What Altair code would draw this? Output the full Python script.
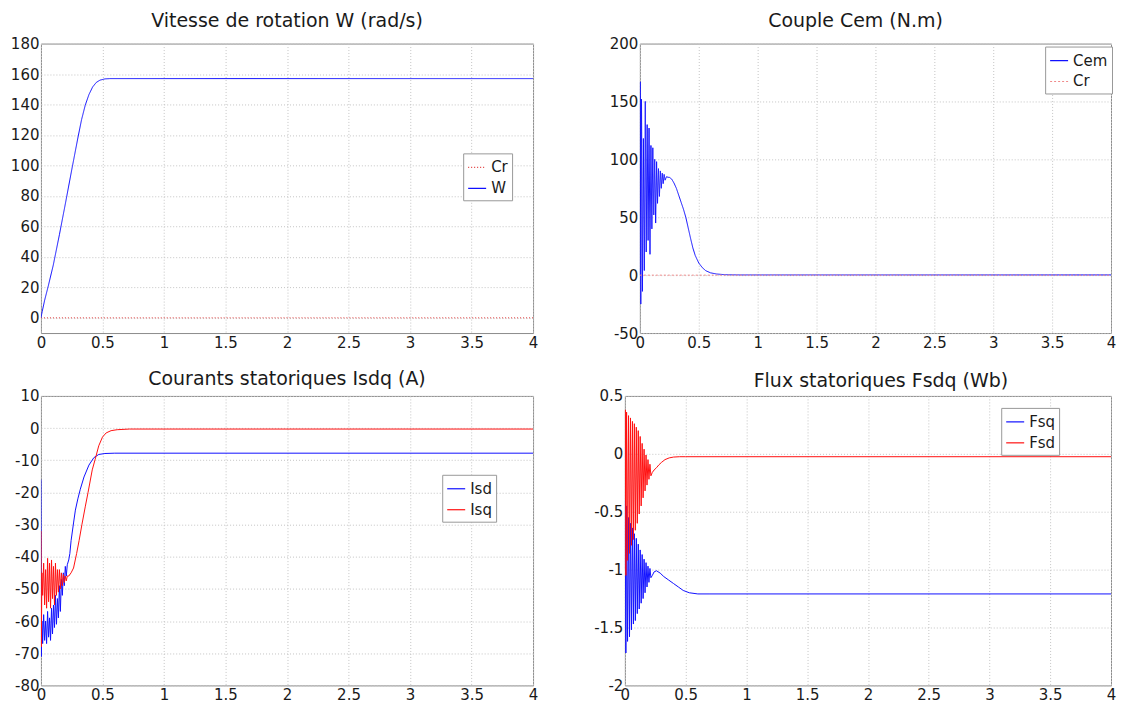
import altair as alt
import pandas as pd

FONT = "DejaVu Sans"

# ---------------- data ----------------
# common time stamps (s) of the oscillating start-up transients
t_osc = [0.014, 0.022, 0.030, 0.038, 0.046, 0.054, 0.062, 0.070, 0.078, 0.086,
         0.094, 0.102, 0.110, 0.118, 0.126, 0.134, 0.142, 0.150, 0.158, 0.166,
         0.174, 0.182, 0.190, 0.198, 0.206, 0.214]
t_head = [0.000, 0.003, 0.008]

# Panel 1 : speed W (rad/s) and load torque Cr
w_t = [0, 0.01, 0.03, 0.06, 0.1, 0.15, 0.2, 0.25, 0.3, 0.33, 0.36,
       0.39, 0.42, 0.45, 0.48, 0.52, 0.56, 0.62, 0.7, 4.0]
w_v = [0, 4, 11.5, 21, 34.5, 54.5, 75.5, 97, 118, 130, 139.5,
       146.5, 151.5, 154.5, 156, 156.8, 157, 157, 157, 157]
cr_t = [0.0, 4.0]
cr_v = [0.0, 0.0]

# Panel 2 : electromagnetic torque Cem (N.m)
cem_head_v = [0, 167, -25]
cem_osc_v = [152, -14, 118, 4, 150, 20, 130, 30, 127, 18, 112, 40, 110,
             52, 100, 45, 98, 62, 92, 68, 90, 75, 88, 79, 87, 82]
cem_tail_t = [0.226, 0.24, 0.25, 0.27, 0.29, 0.31, 0.33, 0.35, 0.37, 0.39, 0.41,
              0.43, 0.45, 0.47, 0.50, 0.53, 0.56, 0.60, 0.65, 0.72, 0.85, 4.0]
cem_tail_v = [85, 84.5, 84.5, 83, 79.5, 75, 69, 63, 57, 50, 41,
              32, 23.5, 17, 10.5, 6.5, 3.8, 2, 1, 0.4, 0.2, 0.2]

# Panel 3 : stator currents Isd / Isq (A)
isd_head_v = [-16, -71, -60]
isd_osc_v = [-67, -58, -66, -60, -67, -57, -65, -59, -66, -56, -64, -55, -62,
             -52, -61, -53, -59, -49, -57, -47, -52, -45, -49, -43, -46, -42.5]
isd_tail_t = [0.226, 0.235, 0.245, 0.265, 0.28, 0.30, 0.32, 0.35, 0.39, 0.43,
              0.47, 0.52, 0.60, 4.0]
isd_tail_v = [-41, -39, -35, -29.5, -25.5, -22, -19, -15.2, -11.5, -9.2,
              -8.2, -7.9, -7.8, -7.8]
isq_head_v = [-32, -68, -45]
isq_osc_v = [-52, -42, -55, -44, -56, -40.5, -54, -42, -56, -41, -53, -43, -55,
             -42, -52, -44, -51, -44, -50, -45, -49, -45.5, -48, -46, -47.5, -46]
isq_tail_t = [0.226, 0.245, 0.265, 0.29, 0.31, 0.333, 0.36, 0.383, 0.417, 0.44,
              0.47, 0.50, 0.53, 0.57, 0.62, 0.72, 4.0]
isq_tail_v = [-46, -45, -43.5, -39, -35, -30, -24.5, -20, -13, -9.8,
              -5.5, -2.8, -1.5, -0.8, -0.5, -0.3, -0.3]

# Panel 4 : stator fluxes Fsq / Fsd (Wb)
fsq_head_v = [-1.0, -0.4, -1.72]
fsq_osc_v = [-0.45, -1.62, -0.55, -1.58, -0.6, -1.52, -0.64, -1.47, -0.69, -1.44,
             -0.73, -1.38, -0.78, -1.34, -0.83, -1.29, -0.87, -1.25, -0.91, -1.2,
             -0.94, -1.15, -0.97, -1.11, -0.99, -1.07]
fsq_tail_t = [0.226, 0.24, 0.26, 0.29, 0.32, 0.36, 0.40, 0.44, 0.48, 0.53, 0.60, 0.70, 4.0]
fsq_tail_v = [-1.05, -1.02, -1.01, -1.03, -1.06, -1.09, -1.12, -1.15, -1.18, -1.2,
              -1.21, -1.21, -1.21]
fsd_head_v = [-0.4, 0.38, -1.05]
fsd_osc_v = [0.36, -0.92, 0.33, -0.86, 0.31, -0.79, 0.28, -0.74, 0.26, -0.66,
             0.23, -0.6, 0.2, -0.52, 0.15, -0.45, 0.09, -0.38, 0.04, -0.32,
             -0.01, -0.27, -0.05, -0.22, -0.09, -0.19]
fsd_tail_t = [0.226, 0.24, 0.26, 0.28, 0.30, 0.33, 0.365, 0.40, 0.45, 0.50, 4.0]
fsd_tail_v = [-0.16, -0.14, -0.12, -0.095, -0.075, -0.05, -0.035, -0.028,
              -0.025, -0.025, -0.025]

x_ticks = [0, 0.5, 1, 1.5, 2, 2.5, 3, 3.5, 4]


def frame(t, v, name):
    return pd.DataFrame({"t": t, "v": v, "s": name})


def osc_frame(head_v, osc_v, tail_t, tail_v, name):
    return frame(t_head + t_osc + tail_t, head_v + osc_v + tail_v, name)


def panel(frames, domain, colors, ydom, yticks, title, tdx, toff, lx, ly,
          w, h, dashes=None):
    leg = alt.Legend(title=None, orient="none", legendX=lx, legendY=ly)
    color = alt.Color("s:N", scale=alt.Scale(domain=domain, range=colors), legend=leg)
    enc = dict(
        x=alt.X("t:Q", scale=alt.Scale(domain=[0, 4], nice=False, zero=False),
                axis=alt.Axis(values=x_ticks, labelExpr="toString(datum.value)",
                              title=None, labelFlush=False)),
        y=alt.Y("v:Q", scale=alt.Scale(domain=ydom, nice=False, zero=False),
                axis=alt.Axis(values=yticks, labelExpr="toString(datum.value)",
                              title=None)),
        color=color,
    )
    if dashes is not None:
        enc["strokeDash"] = alt.StrokeDash(
            "s:N", scale=alt.Scale(domain=domain, range=dashes), legend=leg)
    layers = [alt.Chart(df).mark_line(strokeWidth=1.0, clip=True).encode(**enc)
              for df in frames]
    return alt.layer(*layers).properties(
        width=w, height=h,
        title=alt.TitleParams(title, anchor="middle", offset=toff, dx=tdx,
                              baseline="alphabetic"))


p1 = panel([frame(cr_t, cr_v, "Cr"), frame(w_t, w_v, "W")],
           ["Cr", "W"], ["#e03a3a", "#1010ff"],
           [-10, 180], list(range(0, 181, 20)),
           "Vitesse de rotation W (rad/s)", 0, -9, 423, 110, 493, 290,
           dashes=[[1, 2], [1, 0]])
p2 = panel([osc_frame(cem_head_v, cem_osc_v, cem_tail_t, cem_tail_v, "Cem"),
            frame(cr_t, cr_v, "Cr")],
           ["Cem", "Cr"], ["#1010ff", "#f08a8a"],
           [-50, 200], [-50, 0, 50, 100, 150, 200],
           "Couple Cem (N.m)", -20, -9, 406, 3, 472, 290,
           dashes=[[1, 0], [2, 2]])
p3 = panel([osc_frame(isd_head_v, isd_osc_v, isd_tail_t, isd_tail_v, "Isd"),
            osc_frame(isq_head_v, isq_osc_v, isq_tail_t, isq_tail_v, "Isq")],
           ["Isd", "Isq"], ["#1010ff", "#ff1010"],
           [-80, 10], list(range(-80, 11, 10)),
           "Courants statoriques Isdq (A)", 0, -15, 402, 79, 493, 290)
p4 = panel([osc_frame(fsq_head_v, fsq_osc_v, fsq_tail_t, fsq_tail_v, "Fsq"),
            osc_frame(fsd_head_v, fsd_osc_v, fsd_tail_t, fsd_tail_v, "Fsd")],
           ["Fsq", "Fsd"], ["#1010ff", "#ff1010"],
           [-2, 0.5], [-2, -1.5, -1, -0.5, 0, 0.5],
           "Flux statoriques Fsdq (Wb)", 13, -17, 377, 12, 487, 290)

row1 = alt.hconcat(p1, p2, spacing=107, bounds="flush").resolve_scale(
    x="independent", y="independent", color="independent", strokeDash="independent"
).resolve_legend(color="independent", strokeDash="independent")
row2 = alt.hconcat(p3, p4, spacing=92, bounds="flush").resolve_scale(
    x="independent", y="independent", color="independent"
).resolve_legend(color="independent")

chart = alt.vconcat(row1, row2, spacing=18).resolve_scale(
    x="independent", y="independent", color="independent", strokeDash="independent"
).resolve_legend(color="independent", strokeDash="independent").configure(
    padding={"left": 1, "top": 2, "right": 0, "bottom": 0}, background="white"
).configure_view(
    stroke="#8c8c8c", strokeWidth=1
).configure_axis(
    domain=False, grid=True, gridColor="#c4c4c4", gridDash=[1, 2], gridWidth=1,
    ticks=False, labelFont=FONT, labelFontSize=15, labelColor="#1a1a1a",
    labelPadding=2
).configure_title(
    font=FONT, fontSize=19, fontWeight="normal", color="#1a1a1a"
).configure_legend(
    labelFont=FONT, labelFontSize=15, labelColor="#1a1a1a", strokeColor="#999999",
    fillColor="white", padding=4, rowPadding=3, symbolSize=324,
    symbolStrokeWidth=1.2, labelOffset=4, cornerRadius=0
)

chart.save("out.html", embed_options={"renderer": "svg", "actions": False})
